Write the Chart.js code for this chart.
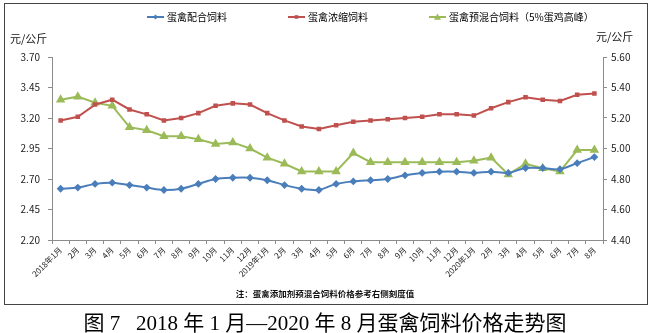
<!DOCTYPE html>
<html>
<head>
<meta charset="utf-8">
<script src="https://cdn.jsdelivr.net/npm/chart.js@4/dist/chart.umd.min.js"></script>
<style>
  body { margin: 0; background: #fff; }
  #wrap { position: relative; width: 650px; height: 333px; overflow: hidden; }
  #jsChart { position: absolute; left: 0; top: 0; }
  #frame { position: absolute; left: 4px; top: 3px; width: 642px; height: 300px; border: 1px solid #444; pointer-events: none; }
  .unit { position: absolute; font: 11px "Noto Sans CJK SC", sans-serif; color: #111; }
  #note { position: absolute; left: 0; width: 650px; top: 287px; text-align: center; font: bold 8.5px "Noto Sans CJK SC", sans-serif; color: #111; }
  #caption { position: absolute; left: 0; width: 650px; top: 306px; text-align: center; font: 21px "Liberation Serif", "Noto Sans CJK SC", serif; color: #000; white-space: pre; }
</style>
</head>
<body>
<div id="wrap">
  <canvas id="jsChart" width="650" height="333"></canvas>
  <div id="frame"></div>
  <div class="unit" style="left:10px; top:30px;">元/公斤</div>
  <div class="unit" style="left:596px; top:28px;">元/公斤</div>
  <div id="note">注：蛋禽添加剂预混合饲料价格参考右侧刻度值</div>
  <div id="caption">图 7   2018 年 1 月—2020 年 8 月蛋禽饲料价格走势图</div>
</div>
<script>
// months 2018-01 .. 2020-08
const labels = [
  '2018年1月','2月','3月','4月','5月','6月','7月','8月','9月','10月','11月','12月',
  '2019年1月','2月','3月','4月','5月','6月','7月','8月','9月','10月','11月','12月',
  '2020年1月','2月','3月','4月','5月','6月','7月','8月'
];

// 蛋禽配合饲料 (left axis)
const peihe = [2.62,2.63,2.66,2.67,2.65,2.63,2.61,2.62,2.66,2.70,2.71,2.71,
  2.69,2.65,2.62,2.61,2.66,2.68,2.69,2.70,2.73,2.75,2.76,2.76,
  2.75,2.76,2.75,2.79,2.79,2.78,2.83,2.88];

// 蛋禽浓缩饲料 (left axis)
const nongsuo = [3.18,3.21,3.31,3.35,3.27,3.23,3.18,3.20,3.24,3.30,3.32,3.31,
  3.24,3.18,3.13,3.11,3.14,3.17,3.18,3.19,3.20,3.21,3.23,3.23,
  3.22,3.28,3.33,3.37,3.35,3.34,3.39,3.40];

// 蛋禽预混合饲料（5%蛋鸡高峰） (right axis)
const yuhun = [5.32,5.34,5.30,5.28,5.14,5.12,5.08,5.08,5.06,5.03,5.04,5.00,
  4.94,4.90,4.85,4.85,4.85,4.97,4.91,4.91,4.91,4.91,4.91,4.91,
  4.92,4.94,4.83,4.90,4.87,4.85,4.99,4.99];

const axisColor = '#8c8c8c';
const tickFont = { family: 'Noto Sans CJK SC', size: 10 };

// legend drawn like the excel one: short line with marker in the middle
const legendX = [147, 288, 429];
const legendY = 17;

function marker(ctx, style, r, x, y, color) {
  ctx.save();
  ctx.fillStyle = color;
  ctx.beginPath();
  if (style === 'rectRot') {
    ctx.moveTo(x, y - r); ctx.lineTo(x + r, y); ctx.lineTo(x, y + r); ctx.lineTo(x - r, y);
  } else if (style === 'triangle') {
    ctx.moveTo(x, y - r); ctx.lineTo(x + r, y + r * 0.8); ctx.lineTo(x - r, y + r * 0.8);
  } else {
    ctx.rect(x - r, y - r, r * 2, r * 2);
  }
  ctx.closePath();
  ctx.fill();
  ctx.restore();
}

const excelLegend = {
  id: 'excelLegend',
  afterDraw(chart) {
    const ctx = chart.ctx;
    chart.data.datasets.forEach((ds, i) => {
      const x = legendX[i];
      ctx.save();
      ctx.strokeStyle = ds.borderColor;
      ctx.lineWidth = 2;
      ctx.beginPath();
      ctx.moveTo(x, legendY);
      ctx.lineTo(x + 17, legendY);
      ctx.stroke();
      marker(ctx, ds.pointStyle, ds.pointRadius, x + 8.5, legendY, ds.borderColor);
      ctx.fillStyle = '#000';
      ctx.font = '10px "Noto Sans CJK SC"';
      ctx.textBaseline = 'middle';
      ctx.fillText(ds.label, x + 20, legendY);
      ctx.restore();
    });
  }
};

const ctx = document.getElementById('jsChart');

new Chart(ctx, {
  type: 'line',
  data: {
    labels: labels,
    datasets: [
      {
        label: '蛋禽配合饲料',
        data: peihe,
        yAxisID: 'y',
        borderColor: '#4a7ebb',
        backgroundColor: '#4a7ebb',
        borderWidth: 2,
        pointStyle: 'rectRot',
        pointRadius: 2.5,
        tension: 0.3,
      },
      {
        label: '蛋禽浓缩饲料',
        data: nongsuo,
        yAxisID: 'y',
        borderColor: '#c0504d',
        backgroundColor: '#c0504d',
        borderWidth: 2,
        pointStyle: 'rect',
        pointRadius: 1.8,
        tension: 0,
      },
      {
        label: '蛋禽预混合饲料（5%蛋鸡高峰）',
        data: yuhun,
        yAxisID: 'y2',
        borderColor: '#9bbb59',
        backgroundColor: '#9bbb59',
        borderWidth: 2,
        pointStyle: 'triangle',
        pointRadius: 3.5,
        tension: 0,
      },
    ],
  },
  options: {
    responsive: false,
    animation: false,
    devicePixelRatio: 1,
    layout: { padding: { top: 57, left: 0, right: 0, bottom: 0 } },
    plugins: {
      legend: { display: false },
      tooltip: { enabled: false },
    },
    scales: {
      x: {
        offset: true,
        grid: { drawOnChartArea: false, color: axisColor, tickLength: 4, offset: true },
        border: { color: axisColor },
        ticks: {
          minRotation: 45, maxRotation: 45, autoSkip: false,
          font: { family: 'Noto Sans CJK SC', size: 8 }, color: '#222', padding: 1,
        },
        afterFit: (scale) => { scale.height = 93; },
      },
      y: {
        position: 'left',
        min: 2.2, max: 3.7,
        grid: { drawOnChartArea: false, color: axisColor, tickLength: 4 },
        border: { color: axisColor },
        ticks: { stepSize: 0.25, font: tickFont, color: '#222', padding: 8, callback: (v) => v.toFixed(2) },
        afterFit: (scale) => { scale.width = 52; },
      },
      y2: {
        position: 'right',
        min: 4.4, max: 5.6,
        grid: { drawOnChartArea: false, color: axisColor, tickLength: 4 },
        border: { color: axisColor },
        ticks: { stepSize: 0.2, font: tickFont, color: '#222', padding: 4, callback: (v) => v.toFixed(2) },
        afterFit: (scale) => { scale.width = 47; },
      },
    },
  },
  plugins: [excelLegend],
});
</script>
</body>
</html>
